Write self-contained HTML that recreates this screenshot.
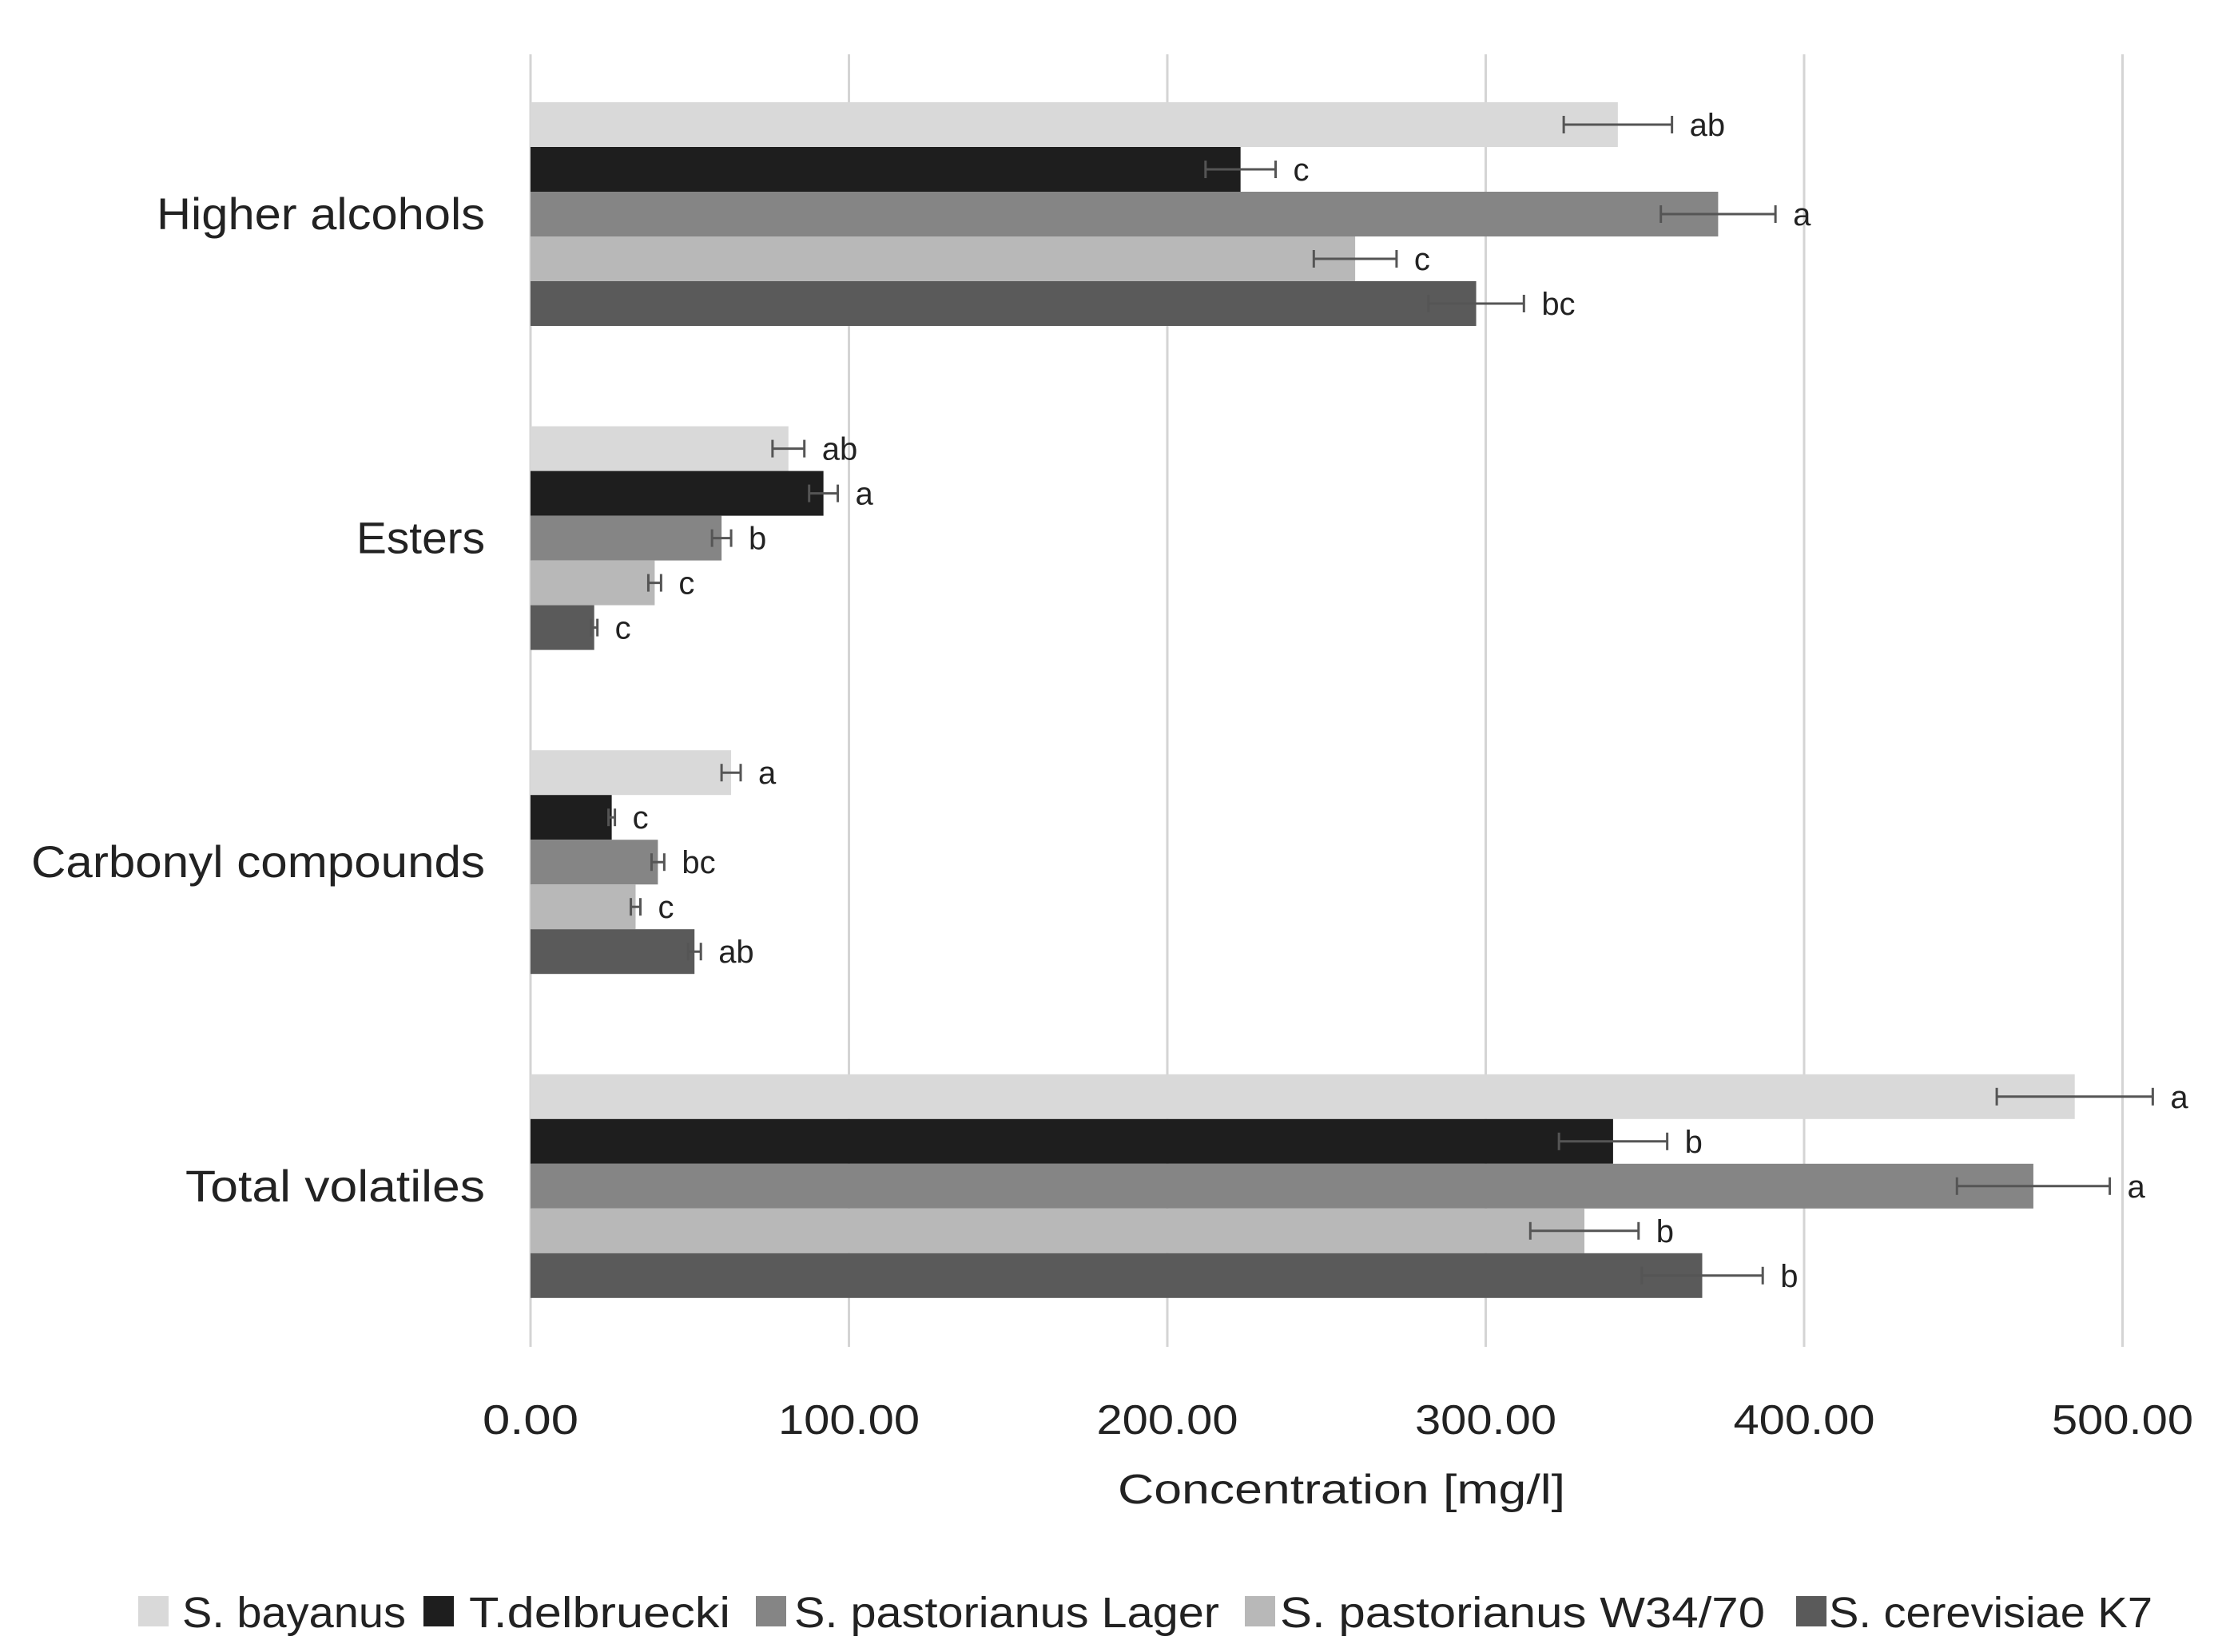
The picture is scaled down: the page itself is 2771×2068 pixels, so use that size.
<!DOCTYPE html>
<html><head><meta charset="utf-8"><style>
html,body{margin:0;padding:0;background:#fff;}
svg{display:block;font-family:"Liberation Sans",sans-serif;}
</style></head>
<body>
<svg id="chart" width="2771" height="2068" viewBox="0 0 2771 2068" xmlns="http://www.w3.org/2000/svg">
<rect x="0" y="0" width="2771" height="2068" fill="#fff"/>
<g id="grid"></g>
<g id="bars"></g>
<g id="cats"></g>
<g id="ticks"></g>
<text x="1679" y="1882" font-size="52" fill="#222" text-anchor="middle" textLength="560" lengthAdjust="spacingAndGlyphs">Concentration [mg/l]</text>
<g id="legend"></g>
</svg>
<script>
const categories = ["Higher alcohols","Esters","Carbonyl compounds","Total volatiles"];
const seriesNames = ["S. bayanus","T.delbruecki","S. pastorianus Lager","S. pastorianus W34/70","S. cerevisiae K7"];
const bayanus = [341.5, 81, 63, 485];
const delbruecki = [223, 92, 25.5, 340];
const lager = [373, 60, 40, 472];
const w3470 = [259, 39, 33, 331];
const k7 = [297, 20, 51.5, 368];
const errBayanus = [17, 5, 3, 24.5];
const errDelbruecki = [11, 4.5, 1, 17];
const errLager = [18, 3, 2, 24];
const errW3470 = [13, 2, 1.5, 17];
const errK7 = [15, 1, 2, 19];
const lettersBayanus = ["ab","ab","a","a"];
const lettersDelbruecki = ["c","a","c","b"];
const lettersLager = ["a","b","bc","a"];
const lettersW3470 = ["c","c","c","b"];
const lettersK7 = ["bc","c","ab","b"];
const ticks = [0,100,200,300,400,500];
const tickLabels = ["0.00","100.00","200.00","300.00","400.00","500.00"];

const series = [bayanus, delbruecki, lager, w3470, k7];
const errs = [errBayanus, errDelbruecki, errLager, errW3470, errK7];
const letters = [lettersBayanus, lettersDelbruecki, lettersLager, lettersW3470, lettersK7];
const colors = ["#d9d9d9","#1e1e1e","#858585","#b8b8b8","#5a5a5a"];
const NS = "http://www.w3.org/2000/svg";
const X0 = 664, PX_PER = 3.985;
const xs = v => X0 + v * PX_PER;
const groupTop = i => 128 + i * 405.6;
const BAR_H = 56;
function mk(tag, attrs, parent, txt){const e=document.createElementNS(NS,tag);for(const k in attrs)e.setAttribute(k,attrs[k]);if(txt!==undefined)e.textContent=txt;parent.appendChild(e);return e;}

const grid = document.getElementById('grid');
const tk = document.getElementById('ticks');
const tickW = [120,177,177,177,177,177];
ticks.forEach((t,i)=>{
  const l = mk('line',{x1:xs(t),x2:xs(t),y1:68,y2:1686,stroke:'#d4d4d4','stroke-width':3},grid);
  
  
  const tx = mk('text',{x:xs(t),y:1795,'font-size':52,fill:'#222','text-anchor':'middle',textLength:tickW[i],lengthAdjust:'spacingAndGlyphs'},tk,tickLabels[i]);
  
  
});

const barsG = document.getElementById('bars');
const catsG = document.getElementById('cats');
const catW = [411,161,568,375];
categories.forEach((c,ci)=>{
  const top = groupTop(ci);
  const ct = mk('text',{x:607,y:top+140+19,'font-size':56,fill:'#222','text-anchor':'end',textLength:catW[ci],lengthAdjust:'spacingAndGlyphs'},catsG,c);
  
  
  series.forEach((s,si)=>{
    const y = top + si*BAR_H;
    const v = s[ci], e = errs[si][ci];
    const r = mk('rect',{x:X0,y:y,width:xs(v)-X0,height:BAR_H,fill:colors[si]},barsG);
    
    
    const cy = y + BAR_H/2;
    const eg = mk('g',{stroke:'#555','stroke-width':3},barsG);
    
    
    mk('line',{x1:xs(v-e),x2:xs(v+e),y1:cy,y2:cy},eg);
    mk('line',{x1:xs(v-e),x2:xs(v-e),y1:cy-11,y2:cy+11},eg);
    mk('line',{x1:xs(v+e),x2:xs(v+e),y1:cy-11,y2:cy+11},eg);
    const lt = mk('text',{x:xs(v+e)+22,y:cy+14,'font-size':40,fill:'#222'},barsG,letters[si][ci]);
    
    
  });
});

const lg = document.getElementById('legend');
const legSq = [173,530,946,1558,2248];
const legTx = [228,587,994,1602,2289];
const legW = [280,327,532,607,405];
seriesNames.forEach((n,i)=>{
  const g = mk('g',{},lg);
  
  
  mk('rect',{x:legSq[i],y:1998,width:38,height:38,fill:colors[i]},g);
  mk('text',{x:legTx[i],y:2037,'font-size':54,fill:'#222',textLength:legW[i],lengthAdjust:'spacingAndGlyphs'},g,n);
});
</script>
</body></html>
